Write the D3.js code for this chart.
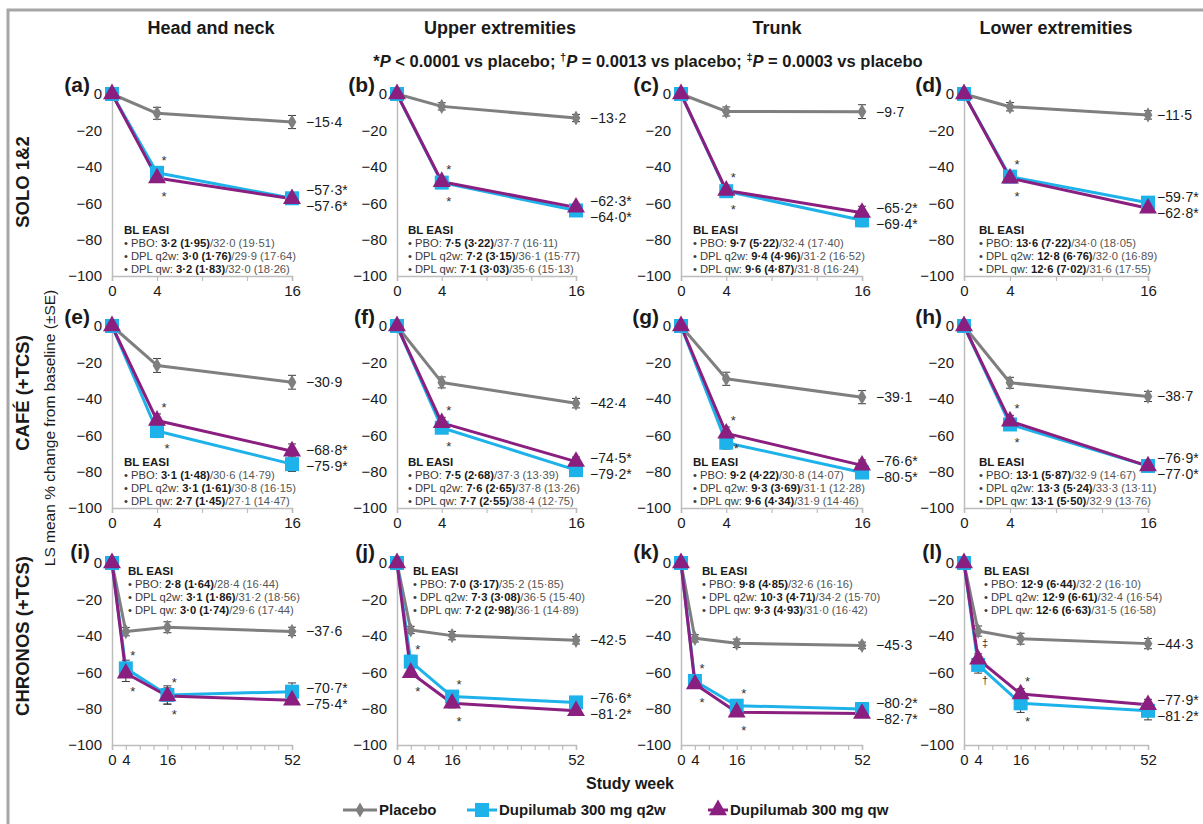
<!DOCTYPE html>
<html><head><meta charset="utf-8">
<script src="https://cdn.jsdelivr.net/npm/d3@7"></script>
<style>
html,body{margin:0;padding:0;background:#fff;}
svg{display:block;font-family:"Liberation Sans",Arial,sans-serif;}
</style></head>
<body><svg id="c" width="1203" height="824"></svg>
<script>
// ---------- DATA ----------
const columns = ["Head and neck", "Upper extremities", "Trunk", "Lower extremities"];
const studies = ["SOLO 1&2", "CAFÉ (+TCS)", "CHRONOS (+TCS)"];
const panelLetters = ["a","b","c","d","e","f","g","h","i","j","k","l"];
const weeksShort = [0, 4, 16];
const weeksLong = [0, 4, 16, 52];
const xTickLabelsShort = [0, 4, 16];
const xTickLabelsLong = [0, 4, 16, 52];
const yTicks = [0, -20, -40, -60, -80, -100];
const seriesNames = ["Placebo", "Dupilumab 300 mg q2w", "Dupilumab 300 mg qw"];

const placebo = [
  [0, -10.6, -15.4], [0, -6.8, -13.2], [0, -9.6, -9.7], [0, -7.0, -11.5],
  [0, -21.7, -30.9], [0, -31.0, -42.4], [0, -29.0, -39.1], [0, -31.2, -38.7],
  [0, -37.7, -35.3, -37.6], [0, -36.8, -39.9, -42.5], [0, -41.4, -44.1, -45.3], [0, -37.4, -41.6, -44.3]
];
const q2w = [
  [0, -43.3, -57.3], [0, -48.7, -64.0], [0, -53.4, -69.4], [0, -45.4, -59.7],
  [0, -57.7, -75.9], [0, -55.9, -79.2], [0, -64.1, -80.5], [0, -54.1, -76.9],
  [0, -57.9, -72.5, -70.7], [0, -54.2, -73.4, -76.6], [0, -64.8, -78.4, -80.2], [0, -56.0, -77.1, -81.2]
];
const qw = [
  [0, -46.2, -57.6], [0, -48.2, -62.3], [0, -53.0, -65.2], [0, -46.3, -62.8],
  [0, -51.9, -68.8], [0, -53.2, -74.5], [0, -59.0, -76.6], [0, -52.3, -77.0],
  [0, -60.6, -73.1, -75.4], [0, -60.3, -77.1, -81.2], [0, -66.5, -82.0, -82.7], [0, -52.9, -72.0, -77.9]
];
const placeboSE = [
  [0, 3.3, 3.6], [0, 2.0, 2.0], [0, 2.5, 3.8], [0, 2.3, 2.3],
  [0, 3.8, 3.8], [0, 3.0, 2.6], [0, 3.6, 3.6], [0, 3.0, 2.8],
  [0, 2.3, 3.0, 2.3], [0, 2.0, 2.3, 2.0], [0, 2.0, 2.3, 1.8], [0, 2.8, 3.0, 2.8]
];
const q2wSE = [
  [0, 2.2, 2.5], [0, 2.0, 2.0], [0, 2.2, 3.5], [0, 2.0, 2.0],
  [0, 3.6, 4.0], [0, 3.0, 2.5], [0, 3.5, 3.0], [0, 3.2, 2.8],
  [0, 4.5, 5.0, 4.8], [0, 3.5, 2.8, 2.8], [0, 2.8, 2.5, 2.0], [0, 4.5, 5.0, 5.0]
];
const qwSE = [
  [0, 2.2, 2.5], [0, 2.0, 2.0], [0, 2.2, 3.5], [0, 2.0, 2.0],
  [0, 3.6, 4.0], [0, 3.0, 2.5], [0, 3.5, 3.0], [0, 3.2, 2.8],
  [0, 4.5, 4.5, 2.0], [0, 2.0, 2.5, 2.0], [0, 2.0, 2.0, 2.0], [0, 3.0, 3.0, 3.0]
];
// significance symbols: [weekIndex, above, below]
const sigMarks = [
  [[1,"*","*"]], [[1,"*","*"]], [[1,"*","*"]], [[1,"*","*"]],
  [[1,"*","*"]], [[1,"*","*"]], [[1,"*","*"]], [[1,"*","*"]],
  [[1,"*","*"],[2,"*","*"]], [[1,"*","*"],[2,"*","*"]], [[1,"*","*"],[2,"*","*"]], [[1,"‡","†"],[2,"*","*"]]
];
// Baseline EASI: [bold part, plain part] for PBO, DPL q2w, DPL qw
const blGroups = ["PBO: ", "DPL q2w: ", "DPL qw: "];
const blEasi = [
  [["3·2 (1·95)","/32·0 (19·51)"],["3·0 (1·76)","/29·9 (17·64)"],["3·2 (1·83)","/32·0 (18·26)"]],
  [["7·5 (3·22)","/37·7 (16·11)"],["7·2 (3·15)","/36·1 (15·77)"],["7·1 (3·03)","/35·6 (15·13)"]],
  [["9·7 (5·22)","/32·4 (17·40)"],["9·4 (4·96)","/31·2 (16·52)"],["9·6 (4·87)","/31·8 (16·24)"]],
  [["13·6 (7·22)","/34·0 (18·05)"],["12·8 (6·76)","/32·0 (16·89)"],["12·6 (7·02)","/31·6 (17·55)"]],
  [["3·1 (1·48)","/30·6 (14·79)"],["3·1 (1·61)","/30·8 (16·15)"],["2·7 (1·45)","/27·1 (14·47)"]],
  [["7·5 (2·68)","/37·3 (13·39)"],["7·6 (2·65)","/37·8 (13·26)"],["7·7 (2·55)","/38·4 (12·75)"]],
  [["9·2 (4·22)","/30·8 (14·07)"],["9·3 (3·69)","/31·1 (12·28)"],["9·6 (4·34)","/31·9 (14·46)"]],
  [["13·1 (5·87)","/32·9 (14·67)"],["13·3 (5·24)","/33·3 (13·11)"],["13·1 (5·50)","/32·9 (13·76)"]],
  [["2·8 (1·64)","/28·4 (16·44)"],["3·1 (1·86)","/31·2 (18·56)"],["3·0 (1·74)","/29·6 (17·44)"]],
  [["7·0 (3·17)","/35·2 (15·85)"],["7·3 (3·08)","/36·5 (15·40)"],["7·2 (2·98)","/36·1 (14·89)"]],
  [["9·8 (4·85)","/32·6 (16·16)"],["10·3 (4·71)","/34·2 (15·70)"],["9·3 (4·93)","/31·0 (16·42)"]],
  [["12·9 (6·44)","/32·2 (16·10)"],["12·9 (6·61)","/32·4 (16·54)"],["12·6 (6·63)","/31·5 (16·58)"]]
];

// ---------- LAYOUT ----------
const colX = [112, 397, 681, 964];
const colW = [180, 179, 181, 184];
const colTitleX = [211, 500, 777, 1056];
const endLabelGap = [14, 14, 14, 9];
const rowY = [94, 326, 563];
const plotH = 182;
const colors = ["#7f7f7f", "#1db2ea", "#8a1f80"];
const textCol = "#1a1a1a";

const svg = d3.select("#c");
svg.append("rect").attr("x", 8).attr("y", 10).attr("width", 1400).attr("height", 1000)
  .attr("fill", "none").attr("stroke", "#a6a6a6").attr("stroke-width", 3);

const fmt = v => (v < 0 ? "\u2212" : "") + Math.abs(v).toFixed(1).replace(".", "\u00b7");
const fmtTick = v => (v < 0 ? "\u2212" : "") + Math.abs(v);

// column titles
columns.forEach((c, i) => {
  svg.append("text").attr("x", colTitleX[i]).attr("y", 34).attr("text-anchor", "middle")
    .attr("font-size", 18).attr("font-weight", "bold").attr("fill", textCol).text(c);
});
// subtitle
const sub = svg.append("text").attr("x", 648).attr("y", 67).attr("text-anchor", "middle")
  .attr("font-size", 16.5).attr("font-weight", "bold").attr("fill", textCol);
sub.append("tspan").text("*");
sub.append("tspan").attr("font-style", "italic").text("P");
sub.append("tspan").text(" < 0.0001 vs placebo; ");
sub.append("tspan").attr("font-size", 11).attr("dy", -6).text("†");
sub.append("tspan").attr("font-style", "italic").attr("dy", 6).text("P");
sub.append("tspan").text(" = 0.0013 vs placebo; ");
sub.append("tspan").attr("font-size", 11).attr("dy", -6).text("‡");
sub.append("tspan").attr("font-style", "italic").attr("dy", 6).text("P");
sub.append("tspan").text(" = 0.0003 vs placebo");

// row labels
const rowLabelY = [182, 393, 636];
studies.forEach((s, i) => {
  svg.append("text").attr("transform", `translate(29,${rowLabelY[i]}) rotate(-90)`)
    .attr("text-anchor", "middle").attr("font-size", 18.5).attr("font-weight", "bold")
    .attr("fill", textCol).text(s);
});
svg.append("text").attr("transform", "translate(55,428) rotate(-90)")
  .attr("text-anchor", "middle").attr("font-size", 15.5).attr("fill", textCol)
  .text("LS mean % change from baseline (±SE)");

const symbols = [d3.symbol().type(d3.symbolDiamond).size(66),
                 d3.symbol().type(d3.symbolSquare).size(196),
                 d3.symbol().type(d3.symbolTriangle).size(140)];

// ---------- PANELS ----------
for (let p = 0; p < 12; p++) {
  const r = Math.floor(p / 4), c = p % 4;
  const long = r === 2;
  const weeks = long ? weeksLong : weeksShort;
  const x = d3.scaleLinear().domain([0, long ? 52 : 16]).range([colX[c], colX[c] + colW[c]]);
  const y = d3.scaleLinear().domain([-100, 0]).range([rowY[r] + plotH, rowY[r]]);
  const g = svg.append("g");

  // axes
  const yAx = g.append("g").attr("transform", `translate(${colX[c]},0)`)
    .call(d3.axisLeft(y).tickValues(yTicks).tickSize(0).tickPadding(10).tickFormat(fmtTick));
  const xAx = g.append("g").attr("transform", `translate(0,${rowY[r] + plotH})`)
    .call(d3.axisBottom(x).tickValues(d3.range(0, (long ? 52 : 16) + 1, 4)).tickSize(5).tickPadding(4)
      .tickFormat(d => (long ? xTickLabelsLong : xTickLabelsShort).includes(d) ? d : ""));
  [yAx, xAx].forEach(a => {
    a.select(".domain").attr("stroke", "#bdbdbd").attr("stroke-width", 1.5);
    a.selectAll(".tick line").attr("stroke", "#bdbdbd").attr("stroke-width", 1.2);
    a.selectAll("text").attr("font-size", 15).attr("fill", textCol)
      .attr("font-family", "Liberation Sans, Arial, sans-serif");
  });

  // panel letter
  g.append("text").attr("x", colX[c] - 22).attr("y", rowY[r] - (r === 2 ? 11 : 9) + 7)
    .attr("text-anchor", "end").attr("font-size", 21).attr("font-weight", "bold")
    .attr("fill", textCol).text(`(${panelLetters[p]})`);

  // BL EASI block
  const bx = colX[c] + (r === 2 ? [16, 16, 21, 20][c] : [12, 11, 12, 15][c]);
  const by = r === 2 ? rowY[r] + 12 : rowY[r] + 140;
  g.append("text").attr("x", bx).attr("y", by).attr("font-size", 11.5).attr("font-weight", "bold")
    .attr("fill", textCol).text("BL EASI");
  blEasi[p].forEach((b, k) => {
    const t = g.append("text").attr("x", bx).attr("y", by + 13 * (k + 1)).attr("font-size", 11.2)
      .attr("fill", "#3a3a3a");
    t.append("tspan").text("•  " + blGroups[k]);
    t.append("tspan").attr("font-weight", "bold").attr("fill", "#1a1a1a").text(b[0]);
    t.append("tspan").attr("fill", "#555").text(b[1]);
  });

  const data = [placebo[p], q2w[p], qw[p]];
  const ses = [placeboSE[p], q2wSE[p], qwSE[p]];
  const line = d3.line().x((d, i) => x(weeks[i])).y(d => y(d));

  // error bars
  data.forEach((vals, s) => {
    vals.forEach((v, i) => {
      if (i === 0) return;
      const se = ses[s][i], cx = x(weeks[i]);
      g.append("path").attr("d",
        `M${cx},${y(v - se)}V${y(v + se)}M${cx - 4},${y(v - se)}H${cx + 4}M${cx - 4},${y(v + se)}H${cx + 4}`)
        .attr("stroke", "#3a3a3a").attr("stroke-width", 1).attr("fill", "none");
    });
  });
  // lines
  data.forEach((vals, s) => {
    g.append("path").attr("d", line(vals)).attr("fill", "none")
      .attr("stroke", colors[s]).attr("stroke-width", 3).attr("stroke-linejoin", "round");
  });
  // markers
  data.forEach((vals, s) => {
    vals.forEach((v, i) => {
      g.append("path").attr("d", symbols[s]())
        .attr("transform", `translate(${x(weeks[i])},${y(v)})`).attr("fill", colors[s]);
    });
  });

  // significance marks
  sigMarks[p].forEach(([wi, above, below]) => {
    const cx = x(weeks[wi]) + 7;
    const y1 = Math.min(y(q2w[p][wi]), y(qw[p][wi]));
    const y2 = Math.max(y(q2w[p][wi]), y(qw[p][wi]));
    const isStar = s => s === "*";
    let belowY = y2 + 15;
    let cxb = cx;
    if (r < 2 && belowY > by - 21) { belowY = by - 21; cxb = cx + 3; }
    g.append("text").attr("x", cx).attr("y", y1 - 16 + (isStar(above) ? 8 : 4)).attr("text-anchor", "middle")
      .attr("font-size", isStar(above) ? 13 : 11).attr("fill", "#333").text(above);
    g.append("text").attr("x", cxb).attr("y", belowY + (isStar(below) ? 8 : 4)).attr("text-anchor", "middle")
      .attr("font-size", isStar(below) ? 13 : 11).attr("fill", "#333").text(below);
  });

  // end labels
  const last = weeks.length - 1;
  const lx = x(weeks[last]) + endLabelGap[c];
  g.append("text").attr("x", lx).attr("y", y(placebo[p][last])).attr("dy", "0.35em")
    .attr("font-size", 14).attr("fill", textCol).text(fmt(placebo[p][last]));
  let a = { v: q2w[p][last], yy: y(q2w[p][last]) }, b = { v: qw[p][last], yy: y(qw[p][last]) };
  let up = a.yy <= b.yy ? a : b, dn = a.yy <= b.yy ? b : a;
  if (dn.yy - up.yy < 16) {
    const mid = (up.yy + dn.yy) / 2;
    up.yy = mid - 8; dn.yy = mid + 8;
  }
  [up, dn].forEach(o => {
    g.append("text").attr("x", lx).attr("y", o.yy).attr("dy", "0.35em")
      .attr("font-size", 14).attr("fill", textCol).text(fmt(o.v) + "*");
  });
}

// x title
svg.append("text").attr("x", 630).attr("y", 789).attr("text-anchor", "middle")
  .attr("font-size", 16).attr("font-weight", "bold").attr("fill", textCol).text("Study week");

// legend
const legX = [343, 467, 708];
const legW = [34, 30, 20];
seriesNames.forEach((n, s) => {
  const lg = svg.append("g").attr("transform", `translate(${legX[s]},810)`);
  lg.append("line").attr("x1", 0).attr("x2", legW[s]).attr("stroke", colors[s]).attr("stroke-width", 3);
  lg.append("path").attr("d", symbols[s]()).attr("transform", `translate(${legW[s] / 2},0)`).attr("fill", colors[s]);
  lg.append("text").attr("x", legW[s] + 2).attr("dy", "0.35em").attr("font-size", 15)
    .attr("font-weight", "bold").attr("fill", textCol).text(n);
});
</script></body></html>
